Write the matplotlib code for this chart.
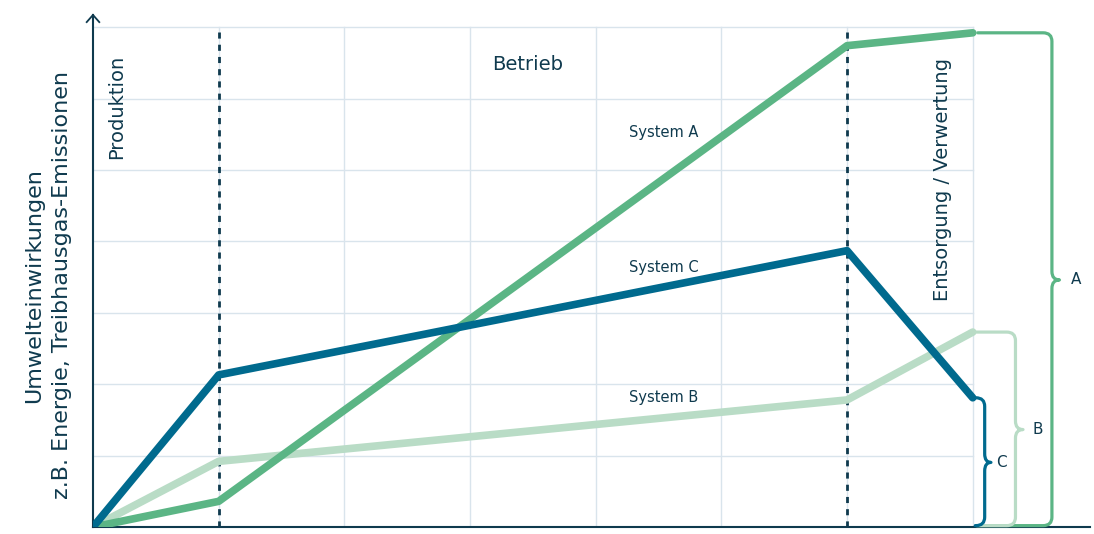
import matplotlib.pyplot as plt
from matplotlib.path import Path
from matplotlib.patches import PathPatch

# phase boundaries (x) and cumulative impact (y) per system
x_pts = [0, 1, 6, 7]
system_a = [0, 0.36, 6.74, 6.92]
system_b = [0, 0.92, 1.78, 2.73]
system_c = [0, 2.13, 3.87, 1.81]

phase_lines = [1, 6]
grid_x = [1, 2, 3, 4, 5, 6, 7]
grid_y = [1, 2, 3, 4, 5, 6, 7]

COL_A = "#5bb585"
COL_B = "#b9dcc6"
COL_C = "#006a8e"
DARK = "#0f3a4e"
GRID = "#d9e4ec"

plt.rcParams["font.family"] = ["DejaVu Sans"]

fig = plt.figure(figsize=(10.94, 5.34), dpi=100)
ax = fig.add_axes([0.085, 0.013, 0.911, 0.959])
ax.set_xlim(0, 7.93)
ax.set_ylim(0, 7.17)

for gx in grid_x:
    ax.plot([gx, gx], [0, 7], color=GRID, lw=1, zorder=1)
for gy in grid_y:
    ax.plot([0, 7], [gy, gy], color=GRID, lw=1, zorder=1)

for px in phase_lines:
    ax.plot([px, px], [0, 7], color=DARK, lw=2, ls=(0, (2.2, 2.2)), zorder=2)

ax.plot(x_pts, system_b, color=COL_B, lw=5.5, solid_capstyle="round", solid_joinstyle="round", zorder=3)
ax.plot(x_pts, system_a, color=COL_A, lw=5.5, solid_capstyle="round", solid_joinstyle="round", zorder=4)
ax.plot(x_pts, system_c, color=COL_C, lw=5.5, solid_capstyle="round", solid_joinstyle="round", zorder=5)


def brace(x0, x1, y_top, tip, color):
    rx, ry = 0.07, 0.12
    ym = y_top / 2
    y_bot = 0.02
    verts = [
        (x0, y_top), (x1 - rx, y_top),
        (x1, y_top), (x1, y_top - ry),
        (x1, ym + ry),
        (x1, ym), (x1 + tip, ym),
        (x1, ym), (x1, ym - ry),
        (x1, y_bot + ry),
        (x1, y_bot), (x1 - rx, y_bot),
        (x0, y_bot),
    ]
    codes = [Path.MOVETO, Path.LINETO,
             Path.CURVE3, Path.CURVE3,
             Path.LINETO,
             Path.CURVE3, Path.CURVE3,
             Path.CURVE3, Path.CURVE3,
             Path.LINETO,
             Path.CURVE3, Path.CURVE3,
             Path.LINETO]
    ax.add_patch(PathPatch(Path(verts, codes), fill=False, ec=color, lw=2.3,
                           capstyle="round", joinstyle="round", zorder=6, clip_on=False))


brace(7.04, 7.63, system_a[-1], 0.06, COL_A)
brace(7.03, 7.34, system_b[-1], 0.06, COL_B)
brace(7.02, 7.095, system_c[-1], 0.05, COL_C)
ax.text(7.82, system_a[-1] / 2, "A", color=DARK, fontsize=11, ha="center", va="center")
ax.text(7.52, system_b[-1] / 2, "B", color=DARK, fontsize=11, ha="center", va="center")
ax.text(7.23, system_c[-1] / 2, "C", color=DARK, fontsize=11, ha="center", va="center")

ax.text(4.54, 5.53, "System A", color=DARK, fontsize=10.5, ha="center", va="center")
ax.text(4.54, 3.63, "System C", color=DARK, fontsize=10.5, ha="center", va="center")
ax.text(4.54, 1.81, "System B", color=DARK, fontsize=10.5, ha="center", va="center")

ax.text(3.46, 6.47, "Betrieb", color=DARK, fontsize=14, ha="center", va="center")
ax.text(0.19, 5.88, "Produktion", color=DARK, fontsize=14, ha="center", va="center", rotation=90)
ax.text(6.76, 4.86, "Entsorgung / Verwertung", color=DARK, fontsize=14, ha="center", va="center", rotation=90)

fig.text(0.044, 0.466, "Umwelteinwirkungen\nz.B. Energie, Treibhausgas-Emissionen",
         color=DARK, fontsize=16, ha="center", va="center", rotation=90,
         multialignment="center", linespacing=1.5)

for s in ["top", "right"]:
    ax.spines[s].set_visible(False)
ax.spines["left"].set_color(DARK)
ax.spines["bottom"].set_color(DARK)
ax.spines["left"].set_linewidth(1.5)
ax.spines["bottom"].set_linewidth(1.5)
ax.set_xticks([])
ax.set_yticks([])

# open arrow head on the y axis
ax.plot([-0.05, 0, 0.05], [7.07, 7.17, 7.07], color=DARK, lw=1.3, clip_on=False,
        solid_joinstyle="miter")

fig.savefig("out.png", dpi=100)
